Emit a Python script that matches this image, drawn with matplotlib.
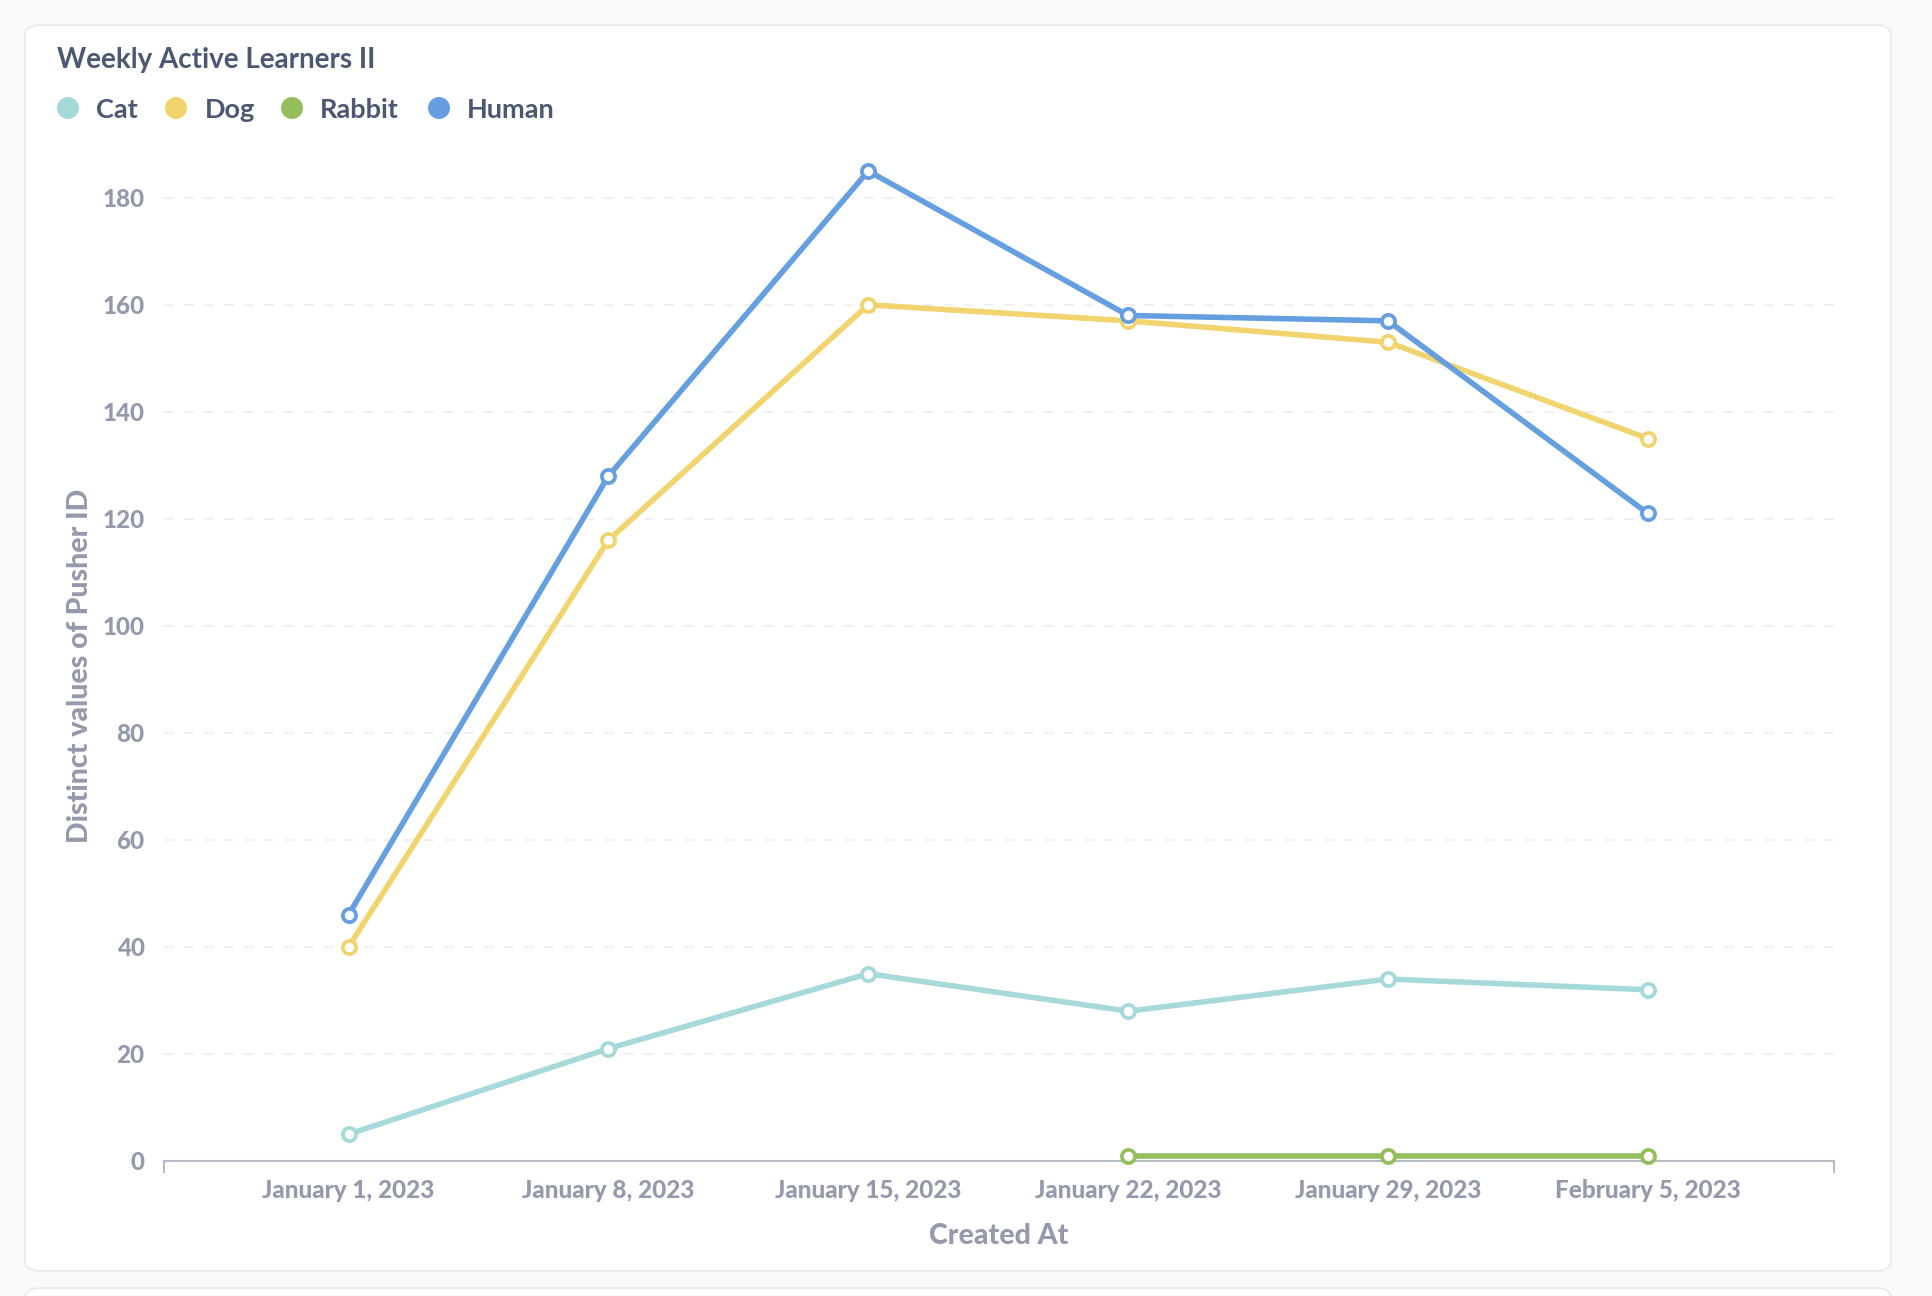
import matplotlib
matplotlib.use("Agg")
import matplotlib.pyplot as plt
from matplotlib.patches import FancyBboxPatch, Ellipse
from matplotlib.lines import Line2D
import numpy as np

plt.rcParams['font.family'] = ['Lato', 'DejaVu Sans']

dates = ["January 1, 2023", "January 8, 2023", "January 15, 2023",
         "January 22, 2023", "January 29, 2023", "February 5, 2023"]
cat = [5, 21, 35, 28, 34, 32]
dog = [40, 116, 160, 157, 153, 135]
rabbit = [None, None, None, 1, 1, 1]
human = [46, 128, 185, 158, 157, 121]
series_names = ["Cat", "Dog", "Rabbit", "Human"]
colors = ["#A6D9DA", "#F1D46E", "#93BE5B", "#659FE0"]
y_ticks = [0, 20, 40, 60, 80, 100, 120, 140, 160, 180]

W, H = 1932, 1296
fig = plt.figure(figsize=(W / 100, H / 100), dpi=100)
fig.patch.set_facecolor("#F9FAFB")

def fx(px): return px / W
def fy(py): return 1 - py / H

# card
card = FancyBboxPatch((fx(25), fy(1271)), fx(1891) - fx(25), fy(25) - fy(1271),
                      boxstyle="round,pad=0,rounding_size=0.008",
                      transform=fig.transFigure, facecolor="white",
                      edgecolor="#E9EBEF", linewidth=1.4, zorder=-5)
fig.patches.append(card)
card2 = FancyBboxPatch((fx(25), fy(1310)), fx(1891) - fx(25), fy(1288) - fy(1310),
                       boxstyle="round,pad=0,rounding_size=0.008",
                       transform=fig.transFigure, facecolor="white",
                       edgecolor="#E9EBEF", linewidth=1.4, zorder=-5)
fig.patches.append(card2)

title_color = "#4C5773"
label_color = "#949AAB"
heavy = 900

fig.text(fx(57), fy(60), "Weekly Active Learners II", fontsize=20, fontweight="bold",
         color=title_color, va="center", ha="left")

# legend
leg_circle_x = [68, 176, 292, 439]
leg_text_x = [96, 205, 320, 467]
for name, c, cx, tx in zip(series_names, colors, leg_circle_x, leg_text_x):
    e = Ellipse((fx(cx), fy(108)), fx(22), 22 / H, transform=fig.transFigure,
                facecolor=c, edgecolor="none", zorder=-1)
    fig.patches.append(e)
    fig.text(fx(tx), fy(110), name, fontsize=19.5, fontweight="bold",
             color=title_color, va="center", ha="left")

# axes
ax_left, ax_right, ax_bottom, ax_top = 164, 1834, 1161, 171
ax = fig.add_axes([fx(ax_left), fy(ax_bottom), fx(ax_right) - fx(ax_left),
                   fy(ax_top) - fy(ax_bottom)])
ax.set_facecolor("none")
x = np.arange(len(dates))
ax.set_xlim(-0.71, len(dates) - 1 + 0.716)
ax.set_ylim(0, 185)

for vals, c in zip([cat, dog, rabbit, human], colors):
    v = np.array([np.nan if a is None else a for a in vals], dtype=float)
    ax.plot(x, v, color=c, linewidth=4.0, marker="o", markersize=9.5,
            markerfacecolor="white", markeredgecolor=c, markeredgewidth=2.7,
            solid_capstyle="round", zorder=3, clip_on=False)

ax.set_yticks(y_ticks)
ax.set_yticklabels([str(t) for t in y_ticks])
ax.set_xticks(x)
ax.set_xticklabels(dates)
for t in y_ticks[1:]:
    ax.axhline(t, color="#EDEEF1", linewidth=1.2, dashes=(6, 6), zorder=1)

for s in ["top", "right", "left"]:
    ax.spines[s].set_visible(False)
ax.spines["bottom"].set_color("#B8BBC3")
ax.spines["bottom"].set_linewidth(1.5)
ax.tick_params(axis="both", length=0, labelcolor=label_color, labelsize=17.5)
ax.tick_params(axis="y", pad=14)
ax.tick_params(axis="x", pad=13)
for lab in ax.get_xticklabels() + ax.get_yticklabels():
    lab.set_fontweight(heavy)

for xe in [0, 1]:
    ax.add_line(Line2D([xe, xe], [0, -0.011], transform=ax.transAxes,
                       color="#B8BBC3", linewidth=1.5, clip_on=False))

ax.set_xlabel("Created At", fontsize=20.5, fontweight=heavy, color=label_color, labelpad=15)
ax.set_ylabel("Distinct values of Pusher ID", fontsize=20.5, fontweight=heavy,
              color=label_color, labelpad=7)

fig.savefig("out.png", dpi=100, facecolor=fig.get_facecolor())
